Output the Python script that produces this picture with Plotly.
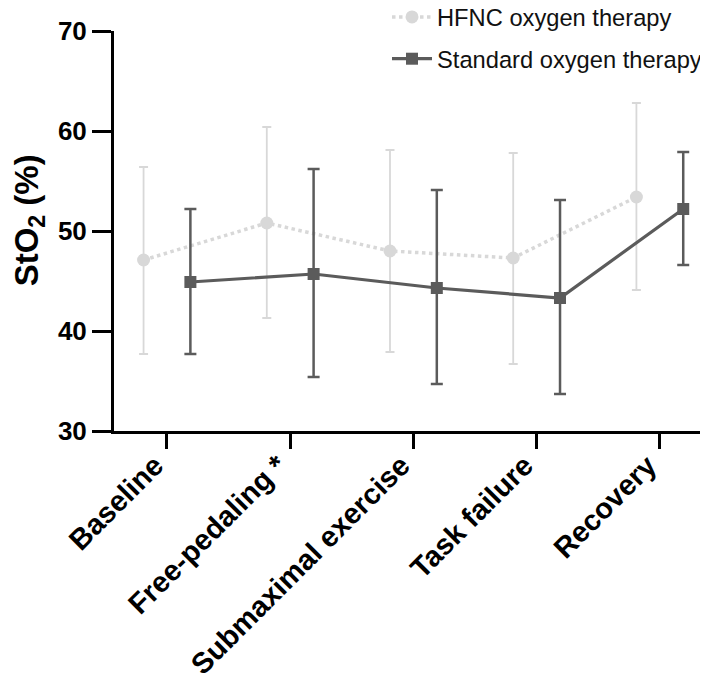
import plotly.graph_objects as go

categories = ["Baseline", "Free-pedaling *", "Submaximal exercise", "Task failure", "Recovery"]
hfnc_mean = [47.1, 50.8, 48.0, 47.3, 53.4]
hfnc_upper = [56.4, 60.4, 58.1, 57.8, 62.8]
hfnc_lower = [37.7, 41.3, 37.9, 36.7, 44.1]
std_mean = [44.9, 45.7, 44.3, 43.3, 52.2]
std_upper = [52.2, 56.2, 54.1, 53.1, 57.9]
std_lower = [37.7, 35.4, 34.7, 33.7, 46.6]
y_ticks = [30, 40, 50, 60, 70]
y_title = "StO<sub>2</sub> (%)"

OFFSET = 0.19
idx = list(range(len(categories)))
x_hfnc = [i - OFFSET for i in idx]
x_std = [i + OFFSET for i in idx]

FONT = "Liberation Sans, Arial, Helvetica, sans-serif"
LIGHT = "#d8d8d8"
DARK = "#5b5b5b"

fig = go.Figure()
fig.add_trace(go.Scatter(
    x=x_hfnc, y=hfnc_mean, mode="lines+markers", name="HFNC oxygen therapy",
    legendgroup="a",
    line=dict(color=LIGHT, width=3.5, dash="dot"),
    marker=dict(symbol="circle", size=13, color=LIGHT),
    error_y=dict(type="data", symmetric=False,
                 array=[u - m for u, m in zip(hfnc_upper, hfnc_mean)],
                 arrayminus=[m - l for l, m in zip(hfnc_lower, hfnc_mean)],
                 color=LIGHT, thickness=1.8, width=4.5),
))
fig.add_trace(go.Scatter(
    x=x_std, y=std_mean, mode="lines+markers", name="Standard oxygen therapy",
    legendgroup="b",
    line=dict(color=DARK, width=3.2),
    marker=dict(symbol="square", size=12, color=DARK),
    error_y=dict(type="data", symmetric=False,
                 array=[u - m for u, m in zip(std_upper, std_mean)],
                 arrayminus=[m - l for l, m in zip(std_lower, std_mean)],
                 color=DARK, thickness=2.5, width=6),
))

fig.update_layout(
    width=708, height=682,
    margin=dict(l=106, r=0, t=23, b=259, pad=0, autoexpand=False),
    paper_bgcolor="white", plot_bgcolor="white",
    font=dict(family=FONT, color="black"),
    showlegend=True,
    legend=dict(x=0.4535, y=1.09, xanchor="left", yanchor="top",
                xref="paper", yref="paper",
                font=dict(size=23.7, color="#111111", family=FONT),
                bgcolor="rgba(0,0,0,0)", traceorder="grouped",
                tracegroupgap=8, itemwidth=40),
    xaxis=dict(
        range=[-0.43, 4.456], tickmode="array", tickvals=idx, ticktext=categories,
        tickangle=-45, showline=True, linecolor="black", linewidth=3,
        ticks="outside", ticklen=15, tickwidth=3, tickcolor="black",
        showgrid=False, zeroline=False, automargin=False,
        ticklabelshift=-12, ticklabelstandoff=-12,
        tickfont=dict(size=29, family=FONT, weight="bold", color="black"),
    ),
    yaxis=dict(
        range=[30, 70], tickmode="array", tickvals=y_ticks,
        showline=True, linecolor="black", linewidth=3,
        ticks="outside", ticklen=19, tickwidth=3, tickcolor="black",
        showgrid=False, zeroline=False, automargin=False,
        tickfont=dict(size=26, family=FONT, weight="bold", color="black"),
    ),
    annotations=[dict(
        text=y_title, textangle=-90, xref="paper", yref="paper",
        x=-0.141, y=0.527, xanchor="center", yanchor="middle", showarrow=False,
        font=dict(size=33, family=FONT, weight="bold", color="black"),
    )],
)
fig.write_html("out.html")
